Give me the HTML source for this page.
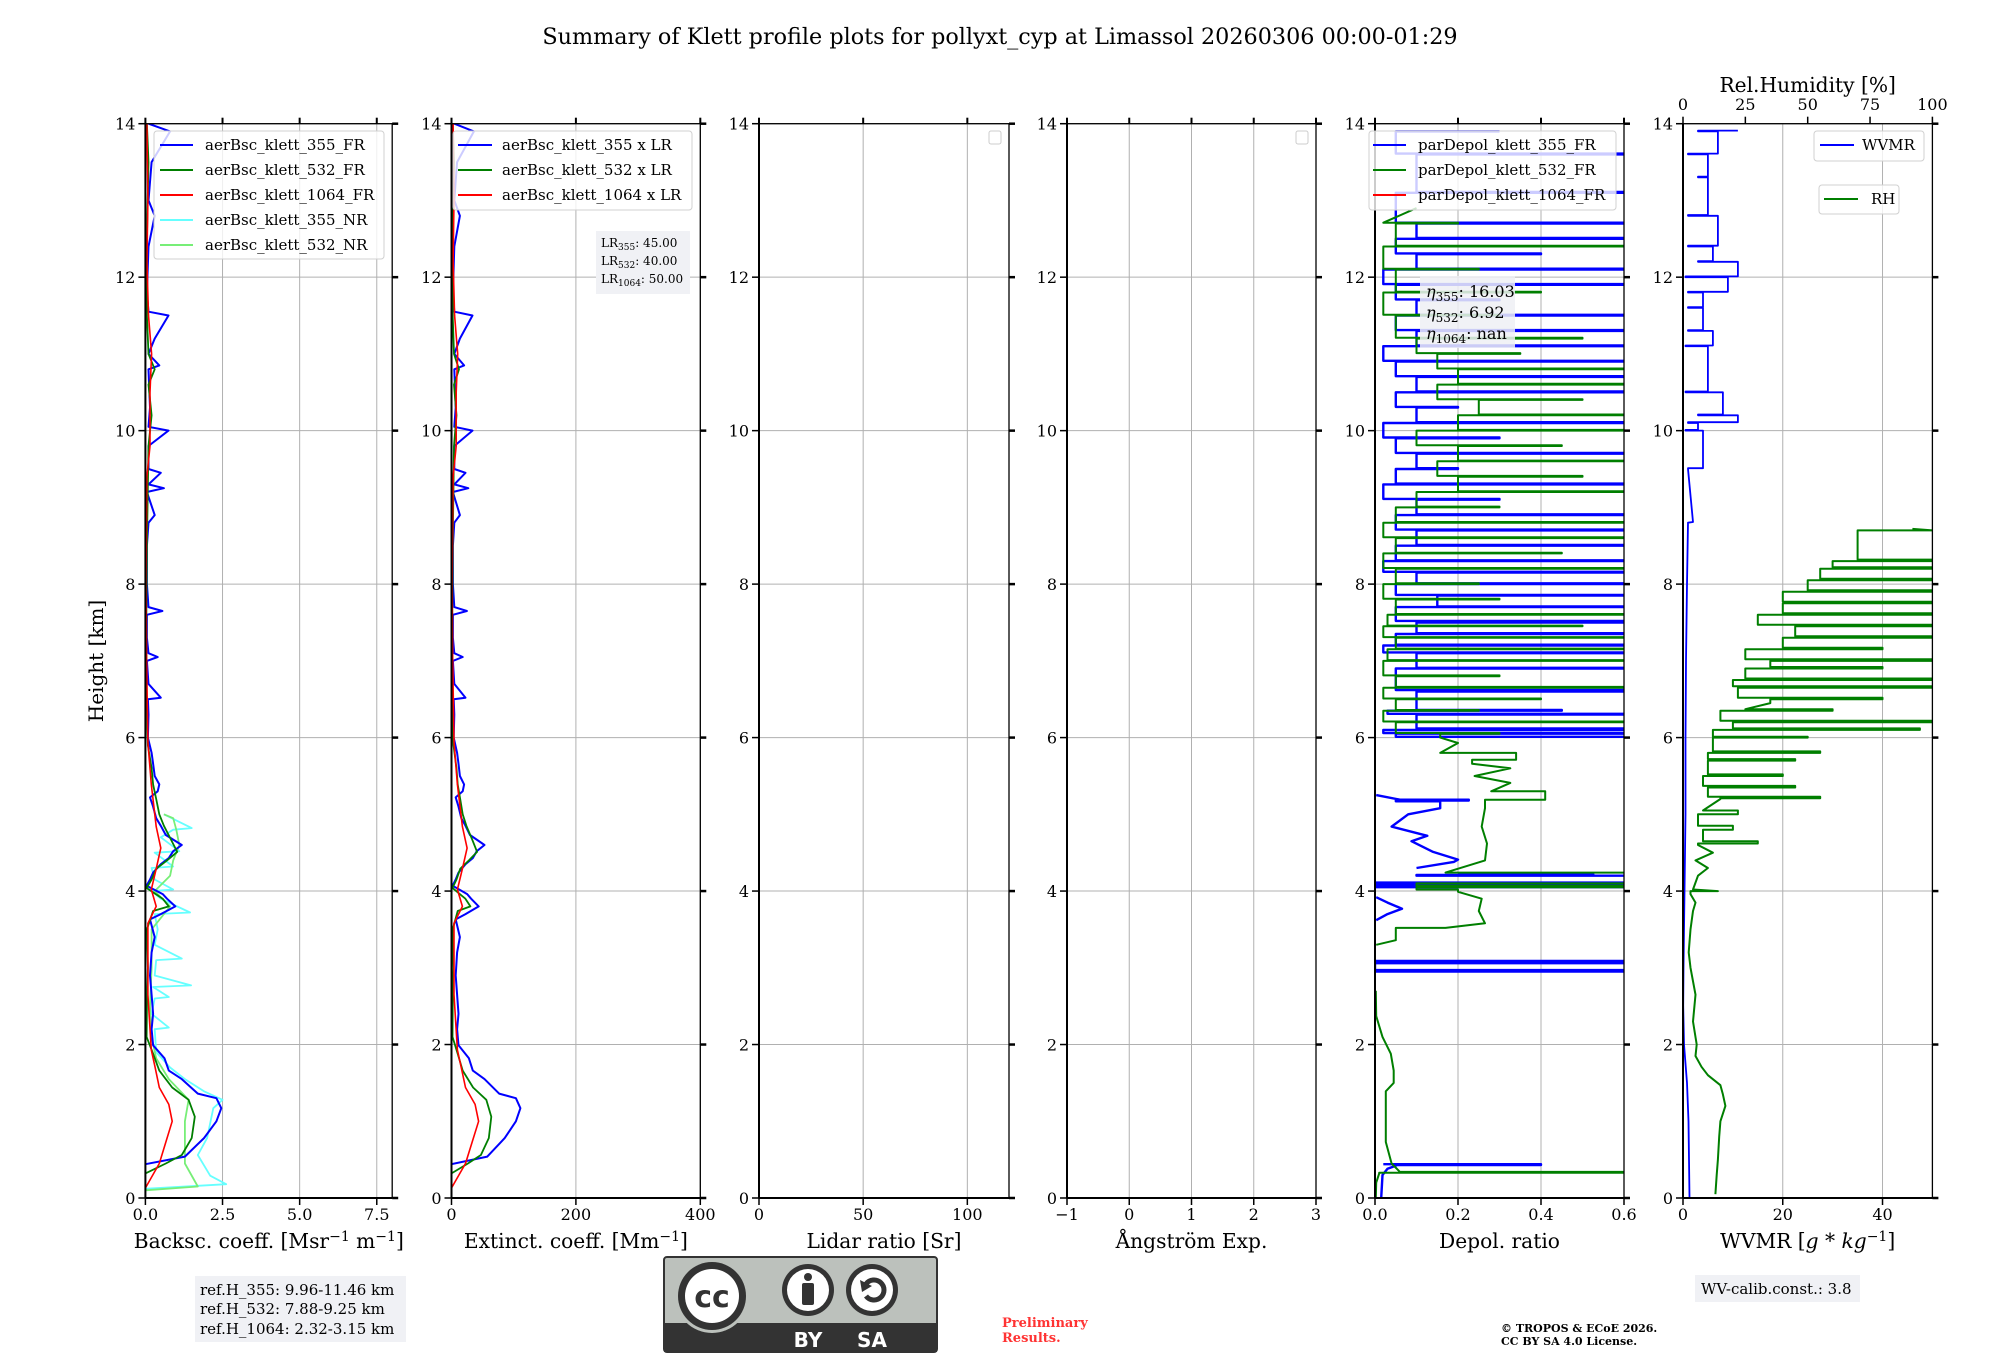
<!DOCTYPE html>
<html><head><meta charset="utf-8"><title>Klett profile summary</title>
<style>
html,body{margin:0;padding:0;background:#fff;}
svg{display:block;font-family:"DejaVu Serif","Liberation Serif",serif;}
</style></head>
<body>
<svg id="fig" width="2000" height="1360" viewBox="0 0 2000 1360" xmlns="http://www.w3.org/2000/svg">
<text x="1000" y="44" text-anchor="middle" font-size="22.3">Summary of Klett profile plots for pollyxt_cyp at Limassol 20260306 00:00-01:29</text>
<text transform="translate(103,661) rotate(-90)" text-anchor="middle" font-size="20">Height [km]</text>
<g id="panels"></g>

<g>
<rect x="195" y="1276" width="211" height="66" fill="#f0f1f5"/>
<text x="200" y="1295" font-size="15">ref.H_355: 9.96-11.46 km</text>
<text x="200" y="1314" font-size="15">ref.H_532: 7.88-9.25 km</text>
<text x="200" y="1334" font-size="15">ref.H_1064: 2.32-3.15 km</text>
</g>

<g>
<rect x="664" y="1257" width="273" height="95" rx="3" fill="#bcc1bc" stroke="#333" stroke-width="2"/>
<rect x="664" y="1323" width="273" height="29" fill="#333"/>
<circle cx="712" cy="1296" r="37" fill="#bcc1bc"/>
<circle cx="712" cy="1296" r="34" fill="#333"/>
<circle cx="712" cy="1296" r="27" fill="#fff"/>
<text x="712" y="1307" text-anchor="middle" font-family="'DejaVu Sans','Liberation Sans',sans-serif" font-weight="bold" font-size="30" fill="#333">cc</text>
<circle cx="808" cy="1290" r="26" fill="#333"/>
<circle cx="808" cy="1290" r="21" fill="#fff"/>
<circle cx="808" cy="1277" r="4" fill="#333"/>
<rect x="802" y="1283" width="12" height="22" rx="2" fill="#333"/>
<circle cx="872" cy="1290" r="26" fill="#333"/>
<circle cx="872" cy="1290" r="21" fill="#fff"/>
<path d="M866 1284 A10 10 0 1 1 866 1296" fill="none" stroke="#333" stroke-width="5"/>
<path d="M860 1280 L872 1286 L862 1292 Z" fill="#333"/>
<text x="808" y="1347" text-anchor="middle" font-family="'DejaVu Sans','Liberation Sans',sans-serif" font-weight="bold" font-size="20" fill="#fff">BY</text>
<text x="872" y="1347" text-anchor="middle" font-family="'DejaVu Sans','Liberation Sans',sans-serif" font-weight="bold" font-size="20" fill="#fff">SA</text>
</g>
<text x="1002" y="1327" font-size="13" font-weight="bold" fill="#ff3333">Preliminary</text>
<text x="1002" y="1342" font-size="13" font-weight="bold" fill="#ff3333">Results.</text>
<text x="1501" y="1332" font-size="11" font-weight="bold">© TROPOS &amp; ECoE 2026.</text>
<text x="1501" y="1345" font-size="11" font-weight="bold">CC BY SA 4.0 License.</text>
<g>
<rect x="1695" y="1275" width="165" height="27" fill="#f0f1f5"/>
<text x="1701" y="1294" font-size="15">WV-calib.const.: 3.8</text>
</g>
</svg>

<script>
// ---------- data ----------
const bsc355H = [0.44,0.54,0.78,1.0,1.17,1.3,1.36,1.55,1.66,1.82,1.99,2.2,2.4,2.65,2.9,3.2,3.4,3.63,3.7,3.8,3.9,3.96,4.07,4.15,4.24,4.35,4.43,4.52,4.6,4.73,4.85,4.95,5.1,5.22,5.3,5.39,5.5,5.66,5.8,6.0,6.3,6.5,6.52,6.7,7.0,7.05,7.1,7.3,7.6,7.65,7.7,8.0,8.5,8.8,8.9,9.2,9.25,9.3,9.45,9.5,9.8,10.0,10.05,10.3,10.8,10.85,11.0,11.2,11.5,11.55,11.8,12.4,12.8,13.0,13.5,13.9,14.0];
const bsc355V = [0,1.28,1.9,2.3,2.46,2.3,1.7,1.18,0.76,0.62,0.25,0.2,0.25,0.2,0.15,0.2,0.3,0.15,0.5,0.97,0.7,0.56,0.04,0.15,0.25,0.5,0.76,0.9,1.18,0.66,0.5,0.35,0.25,0.15,0.4,0.45,0.3,0.25,0.2,0.08,0.1,0.08,0.5,0.1,0.05,0.4,0.1,0.05,0.05,0.55,0.1,0.05,0.05,0.1,0.3,0.05,0.6,0.1,0.5,0.1,0.1,0.75,0.1,0.15,0.1,0.45,0.1,0.3,0.75,0.1,0.05,0.1,0.3,0.1,0.2,0.8,0.1];
const bsc532H = [0.32,0.45,0.56,0.78,1.06,1.28,1.44,1.66,1.88,2.1,2.5,3.0,3.5,3.74,3.8,3.9,4.04,4.15,4.29,4.4,4.51,4.67,4.85,5.0,5.2,5.39,5.6,5.9,6.5,7.5,8.5,9.8,10.2,10.6,10.8,11.0,11.5,12.5,13.5,14];
const bsc532V = [0,0.66,1.18,1.5,1.6,1.4,0.87,0.45,0.25,0.04,0.05,0.08,0.05,0.25,0.76,0.56,0.04,0.2,0.35,0.7,1.03,0.83,0.6,0.45,0.35,0.25,0.2,0.08,0.04,0.03,0.05,0.1,0.2,0.1,0.3,0.1,0.05,0.05,0.1,0.05];
const bsc1064H = [0.13,0.45,1.0,1.22,1.44,1.71,1.93,2.65,3.58,3.8,4.02,4.29,4.56,4.84,5.39,5.94,7,8,9.4,9.8,10.5,11,11.5,12.2,13,14];
const bsc1064V = [0,0.45,0.87,0.76,0.45,0.31,0.19,0.08,0.08,0.35,0.19,0.35,0.5,0.35,0.19,0.08,0.04,0.02,0.05,0.15,0.15,0.2,0.1,0.05,0.08,0.05];
const nr355H = [0.12,0.18,0.29,0.56,0.78,1.17,1.28,1.39,1.55,1.7,1.9,2.2,2.22,2.4,2.6,2.62,2.75,2.77,2.9,3.1,3.12,3.3,3.5,3.7,3.72,3.9,4.0,4.02,4.15,4.3,4.32,4.5,4.52,4.7,4.8,4.82,5.0];
const nr355V = [0,2.62,2.1,1.7,2.0,2.2,2.5,1.9,1.28,0.8,0.35,0.3,0.76,0.2,0.3,0.76,0.25,1.48,0.3,0.35,1.18,0.3,0.4,0.3,1.45,0.5,0.2,0.9,0.3,0.2,0.9,0.3,1.1,0.5,0.9,1.5,0.6];
const nr532H = [0.1,0.15,0.45,1.0,1.28,1.55,1.82,2.1,2.5,3.0,3.5,3.8,4.0,4.2,4.4,4.6,4.8,4.95,5.0];
const nr532V = [0,1.7,1.28,1.28,1.4,0.76,0.35,0.2,0.15,0.2,0.2,0.8,0.3,0.8,0.9,1.1,1.0,0.9,0.6];
const lidarRatios = [45.00, 40.00, 50.00];

const dep355H = [0.0,0.3,0.38,0.42,0.43,0.43,0.44,null,2.94,2.95,2.96,2.97,3.05,3.06,3.08,3.09,null,3.62,3.7,3.77,3.85,3.92,null,4.04,4.05,4.07,4.08,4.1,4.11,4.2,4.21,4.22,null,4.3,4.38,4.41,4.51,4.65,4.72,4.84,5.0,5.08,5.17,5.18,5.19,5.25,null,
 6.0,6.01,6.05,6.06,6.1,6.12,6.3,6.31,6.35,6.36,6.6,6.62,6.9,6.91,7.1,7.11,7.2,7.21,7.35,7.36,7.5,7.52,7.7,7.71,7.85,7.86,8.0,8.01,8.15,8.16,8.3,8.31,8.5,8.51,8.7,8.71,8.9,8.91,9.1,9.11,9.3,9.31,9.5,9.51,9.7,9.71,9.9,9.91,10.1,10.11,10.3,10.31,10.5,10.51,10.7,10.71,10.9,10.91,11.1,11.11,11.3,11.31,11.5,11.51,11.7,11.71,11.9,11.91,12.1,12.11,12.3,12.31,12.5,12.51,12.7,12.71,13.1,13.11,13.6,13.61,13.9];
const dep355V = [0.015,0.018,0.03,0.05,0.05,0.4,0.02,null,0.0,0.7,0.7,0.0,0.0,0.7,0.7,0.0,null,0.003,0.03,0.065,0.03,0.003,null,0.0,0.7,0.0,0.7,0.0,0.7,0.1,0.526,0.2,null,0.1,0.19,0.2,0.14,0.088,0.126,0.04,0.08,0.157,0.05,0.226,0.06,0.003,null,
 0.9,0.05,0.9,0.02,0.7,0.1,0.9,0.03,0.45,0.1,0.9,0.05,0.9,0.1,0.9,0.02,0.6,0.05,0.9,0.1,0.7,0.05,0.9,0.15,0.9,0.05,0.9,0.1,0.9,0.02,0.9,0.05,0.9,0.1,0.7,0.05,0.9,0.1,0.3,0.02,0.9,0.05,0.2,0.1,0.9,0.05,0.3,0.02,0.9,0.1,0.2,0.05,0.9,0.1,0.9,0.05,0.9,0.02,0.9,0.1,0.9,0.05,0.9,0.1,0.3,0.05,0.9,0.02,0.9,0.1,0.4,0.05,0.9,0.1,0.9,0.05,0.9,0.1,0.9,0.05,0.3];
const dep532H = [0.0,0.2,0.32,0.33,0.34,0.45,0.73,1.39,1.5,1.66,1.88,2.1,2.37,2.7,null,3.3,3.36,3.41,3.52,3.58,3.74,3.9,3.99,4.02,4.05,4.07,4.1,4.24,4.4,4.62,4.84,5.08,5.19,5.3,5.41,5.5,5.6,5.66,5.71,5.8,5.93,
 6.0,6.05,6.06,6.2,6.21,6.35,6.36,6.5,6.51,6.65,6.66,6.8,6.81,7.0,7.01,7.15,7.16,7.3,7.31,7.45,7.46,7.6,7.61,7.8,7.81,8.0,8.01,8.2,8.21,8.4,8.41,8.6,8.61,8.8,8.81,9.0,9.01,9.2,9.21,9.4,9.41,9.6,9.61,9.8,9.81,10.0,10.01,10.2,10.21,10.4,10.41,10.6,10.61,10.8,10.81,11.0,11.01,11.2,11.21,11.5,11.51,11.8,11.81,12.1,12.11,12.4,12.41,12.7,12.71,12.9];
const dep532V = [0.002,0.003,0.01,0.7,0.06,0.04,0.026,0.026,0.045,0.045,0.038,0.018,0.003,0.002,null,0.003,0.05,0.05,0.17,0.265,0.25,0.257,0.2,0.1,0.7,0.1,0.7,0.17,0.265,0.27,0.257,0.265,0.41,0.28,0.326,0.24,0.326,0.234,0.34,0.157,0.2,
 0.157,0.3,0.05,0.7,0.02,0.25,0.05,0.4,0.02,0.7,0.05,0.3,0.02,0.7,0.03,0.6,0.05,0.7,0.02,0.5,0.03,0.7,0.05,0.3,0.02,0.25,0.05,0.7,0.02,0.45,0.05,0.7,0.02,0.6,0.05,0.3,0.1,0.7,0.2,0.5,0.15,0.7,0.2,0.45,0.1,0.7,0.2,0.7,0.25,0.5,0.15,0.7,0.2,0.7,0.15,0.35,0.1,0.5,0.05,0.3,0.02,0.4,0.05,0.25,0.02,0.7,0.05,0.2,0.02,0.1];

const wvH = [0.0,0.5,1.0,1.5,2.0,2.5,3.0,4.0,5.0,6.0,7.0,8.0,8.8,8.81,9.5,9.51,10.0,10.01,10.1,10.11,10.2,10.21,10.5,10.51,11.1,11.11,11.3,11.31,11.6,11.61,11.8,11.81,12.0,12.01,12.2,12.21,12.4,12.41,12.8,12.81,13.3,13.31,13.6,13.61,13.9,13.91];
const wvV = [1.3,1.2,1.1,0.8,0.2,0.05,0.1,0.3,0.5,0.5,0.6,0.8,1,2,1,4,0.5,3,1,11,3,8,0.5,5,0.5,6,1,4,1,4,1,9,0.5,11,3,6,1,7,1,5,3,5,1,7,3,11];
const rhH = [0.05,0.3,0.5,0.8,1.0,1.2,1.35,1.47,1.6,1.71,1.85,2.0,2.3,2.65,3.0,3.2,3.5,3.74,3.85,3.96,4.0,4.02,4.2,4.3,4.4,4.5,4.6,4.62,4.65,4.8,4.85,5.0,5.05,5.2,5.21,5.23,5.35,5.37,5.5,5.52,5.7,5.72,5.8,5.82,6.0,6.01,6.1,6.12,6.2,6.22,6.35,6.37,6.45,6.5,6.52,6.65,6.67,6.75,6.77,6.9,6.92,7.0,7.02,7.15,7.17,7.3,7.32,7.45,7.47,7.6,7.62,7.75,7.77,7.9,7.92,8.05,8.07,8.2,8.22,8.3,8.32,8.7,8.72];
const rhV = [13,13.5,14,14.5,15,17,16,15,10,7.4,5,5.5,4,5,3,2.3,3,4,5,3,14,4,6,10,5,12,6,30,8,20,6,22,8,15,55,10,45,8,40,10,45,10,55,12,50,12,95,20,100,15,60,25,35,80,22,100,20,100,25,80,35,100,25,80,40,100,45,100,30,100,40,100,40,100,50,100,55,100,60,100,70,100,92];

const bscTicks = ["0.0","2.5","5.0","7.5"];
const extTicks = ["0","200","400"];
const lrTicks = ["0","50","100"];
const angTicks = ["\u22121","0","1","2","3"];
const depTicks = ["0.0","0.2","0.4","0.6"];
const wvTicks = ["0","20","40"];
const rhTicks = ["0","25","50","75","100"];
const hTicks = ["0","2","4","6","8","10","12","14"];

// ---------- helpers ----------
const NS = "http://www.w3.org/2000/svg";
const Y0 = 1198, Y14 = 123.7;
function yScale(h){ return Y0 - (Y0 - Y14) * h / 14; }
function xScaleFor(p){ return v => p.x0 + (p.x1 - p.x0) * (v - p.min) / (p.max - p.min); }
function mk(tag, attrs, parent){ const e = document.createElementNS(NS, tag); for (const k in attrs) e.setAttribute(k, attrs[k]); parent.appendChild(e); return e; }

const root = document.getElementById("panels");
const panels = [
 {key:"bsc", x0:145.4, x1:392.2, min:0, max:8, ticks:bscTicks, label:'Backsc. coeff. [Msr<tspan dy="-7" font-size="14">\u22121</tspan><tspan dy="7"> m</tspan><tspan dy="-7" font-size="14">\u22121</tspan><tspan dy="7">]</tspan>'},
 {key:"ext", x0:451.5, x1:700.3, min:0, max:400, ticks:extTicks, label:'Extinct. coeff. [Mm<tspan dy="-7" font-size="14">\u22121</tspan><tspan dy="7">]</tspan>'},
 {key:"lr", x0:759, x1:1009, min:0, max:120, ticks:lrTicks, label:'Lidar ratio [Sr]'},
 {key:"ang", x0:1067, x1:1316, min:-1, max:3, ticks:angTicks, label:'\u00c5ngstr\u00f6m Exp.'},
 {key:"dep", x0:1375, x1:1624, min:0, max:0.6, ticks:depTicks, label:'Depol. ratio'},
 {key:"wv", x0:1683, x1:1932.4, min:0, max:50, ticks:wvTicks, label:'WVMR [<tspan font-style="italic">g</tspan> * <tspan font-style="italic">kg</tspan><tspan dy="-7" font-size="14">\u22121</tspan><tspan dy="7">]</tspan>'}
];

// stepJump: pixel threshold above which a value jump is drawn as vertical-then-horizontal spike
function drawLine(g, xs, Hs, Vs, color, width, name, stepJump){
  let d = "", pen = false, lastX = 0;
  for (let i = 0; i < Hs.length; i++){
    if (Hs[i] === null || Vs[i] === null){ pen = false; continue; }
    const x = xs(Vs[i]), y = yScale(Hs[i]);
    if (pen && stepJump && Math.abs(x - lastX) > stepJump){
      d += "L" + lastX.toFixed(1) + " " + y.toFixed(1);
    }
    d += (pen ? "L" : "M") + x.toFixed(1) + " " + y.toFixed(1);
    lastX = x;
    pen = true;
  }
  const p = mk("path", {d:d, fill:"none", stroke:color, "stroke-width":width, "stroke-linejoin":"round"}, g);
  
  
  return p;
}

panels.forEach((p, idx) => {
  const g = mk("g", {}, root);
  
  
  const xs = xScaleFor(p);
  const clip = mk("clipPath", {id:"clip" + idx}, g);
  mk("rect", {x:p.x0, y:Y14, width:p.x1 - p.x0, height:Y0 - Y14}, clip);
  hTicks.forEach((t) => {
    const y = yScale(+t);
    const gl = mk("line", {x1:p.x0, x2:p.x1, y1:y, y2:y, stroke:"#b0b0b0", "stroke-width":1}, g);
    
    
  });
  p.ticks.forEach((t) => {
    const x = xs(+t.replace("\u2212","-"));
    const gl = mk("line", {x1:x, x2:x, y1:Y14, y2:Y0, stroke:"#b0b0b0", "stroke-width":1}, g);
    
    
  });
  const dg = mk("g", {"clip-path":"url(#clip" + idx + ")"}, g);
  if (p.key === "bsc"){
    drawLine(dg, xs, nr355H, nr355V, "#66ffff", 1.8, "bsc-355-nr-line", 0);
    drawLine(dg, xs, nr532H, nr532V, "#77ee77", 1.8, "bsc-532-nr-line", 0);
    drawLine(dg, xs, bsc355H, bsc355V, "#0000ff", 2, "bsc-355-fr-line", 0);
    drawLine(dg, xs, bsc532H, bsc532V, "#007f00", 1.8, "bsc-532-fr-line", 0);
    drawLine(dg, xs, bsc1064H, bsc1064V, "#ff0000", 1.6, "bsc-1064-fr-line", 0);
  } else if (p.key === "ext"){
    drawLine(dg, xs, bsc355H, bsc355V.map(v => v * lidarRatios[0]), "#0000ff", 2, "ext-355-line", 0);
    drawLine(dg, xs, bsc532H, bsc532V.map(v => v * lidarRatios[1]), "#007f00", 1.8, "ext-532-line", 0);
    drawLine(dg, xs, bsc1064H, bsc1064V.map(v => v * lidarRatios[2]), "#ff0000", 1.6, "ext-1064-line", 0);
  } else if (p.key === "dep"){
    drawLine(dg, xs, dep355H, dep355V, "#0000ff", 2.4, "depol-355-line", 40);
    drawLine(dg, xs, dep532H, dep532V, "#007f00", 2, "depol-532-line", 40);
  } else if (p.key === "wv"){
    const rx = v => p.x0 + (p.x1 - p.x0) * v / 100;
    drawLine(dg, xs, wvH, wvV, "#0000ff", 1.8, "wvmr-line", 8);
    drawLine(dg, rx, rhH, rhV, "#007f00", 2, "rh-line", 25);
  }
  const fr = mk("rect", {x:p.x0, y:Y14, width:p.x1 - p.x0, height:Y0 - Y14, fill:"none", stroke:"#000", "stroke-width":1.3}, g);
  
  
  mk("line", {x1:p.x0, x2:p.x1, y1:Y0, y2:Y0, stroke:"#000", "stroke-width":2}, g);
  mk("line", {x1:p.x0, x2:p.x0, y1:Y14, y2:Y0, stroke:"#000", "stroke-width":2}, g);
  hTicks.forEach((t) => {
    const y = yScale(+t);
    mk("line", {x1:p.x0 - 7, x2:p.x0, y1:y, y2:y, stroke:"#000", "stroke-width":1.5}, g);
    mk("line", {x1:p.x1, x2:p.x1 + 6, y1:y, y2:y, stroke:"#000", "stroke-width":2.5}, g);
    const tl = mk("text", {x:p.x0 - 10, y:y + 6, "text-anchor":"end", "font-size":16}, g);
    tl.textContent = t;
    
    
  });
  p.ticks.forEach((t) => {
    const x = xs(+t.replace("\u2212","-"));
    mk("line", {x1:x, x2:x, y1:Y0, y2:Y0 + 7, stroke:"#000", "stroke-width":1.5}, g);
    if (p.key !== "wv") mk("line", {x1:x, x2:x, y1:Y14 - 6, y2:Y14, stroke:"#000", "stroke-width":2}, g);
    const tl = mk("text", {x:x, y:Y0 + 22, "text-anchor":"middle", "font-size":16}, g);
    tl.textContent = t;
    
    
  });
  const xl = mk("text", {x:(p.x0 + p.x1) / 2, y:1248, "text-anchor":"middle", "font-size":20.2}, g);
  xl.innerHTML = p.label;
  
  

  if (p.key === "wv"){
    rhTicks.forEach((t) => {
      const x = p.x0 + (p.x1 - p.x0) * (+t) / 100;
      mk("line", {x1:x, x2:x, y1:Y14 - 7, y2:Y14, stroke:"#000", "stroke-width":1.5}, g);
      const tl = mk("text", {x:x, y:110, "text-anchor":"middle", "font-size":16}, g);
      tl.textContent = t;
      
      
    });
    const tt = mk("text", {x:(p.x0 + p.x1) / 2, y:92, "text-anchor":"middle", "font-size":20.2}, g);
    tt.textContent = "Rel.Humidity [%]";
    
    
  }
});

function legend(x, y, w, h, entries, lineX0, lineX1, textX, step, name){
  const g = mk("g", {}, root);
  
  
  mk("rect", {x:x, y:y, width:w, height:h, rx:3, fill:"#fff", "fill-opacity":0.8, stroke:"#d0d0d0", "stroke-width":1}, g);
  entries.forEach((e, i) => {
    const yy = y + 14 + i * step;
    mk("line", {x1:lineX0, x2:lineX1, y1:yy, y2:yy, stroke:e[1], "stroke-width":2}, g);
    const t = mk("text", {x:textX, y:yy + 5, "font-size":15}, g);
    t.textContent = e[0];
    
    
  });
}
legend(154, 131, 230, 128, [["aerBsc_klett_355_FR","#0000ff"],["aerBsc_klett_532_FR","#007f00"],["aerBsc_klett_1064_FR","#ff0000"],["aerBsc_klett_355_NR","#66ffff"],["aerBsc_klett_532_NR","#77ee77"]], 160, 193, 205, 25, "bsc-legend");
legend(453, 131, 239, 79, [["aerBsc_klett_355 x LR","#0000ff"],["aerBsc_klett_532 x LR","#007f00"],["aerBsc_klett_1064 x LR","#ff0000"]], 458, 492, 502, 25, "ext-legend");
legend(1369, 131, 247, 79, [["parDepol_klett_355_FR","#0000ff"],["parDepol_klett_532_FR","#007f00"],["parDepol_klett_1064_FR","#ff0000"]], 1373, 1406, 1418, 25, "depol-legend");
legend(1814, 131, 110, 30, [["WVMR","#0000ff"]], 1820, 1854, 1862, 25, "wvmr-legend");
legend(1819, 185, 80, 29, [["RH","#007f00"]], 1824, 1858, 1871, 25, "rh-legend");

[[989,131,"lr-empty-legend"],[1296,131,"angstrom-empty-legend"]].forEach(a => {
  const r = mk("rect", {x:a[0], y:a[1], width:12, height:13, rx:2, fill:"#fff", stroke:"#ccc"}, root);
  
  
});

(function(){
  const g = mk("g", {}, root);
  
  
  mk("rect", {x:596, y:231, width:94, height:63, fill:"#f0f1f5"}, g);
  const lbl = ["355","532","1064"];
  lbl.forEach((s, i) => {
    const t = mk("text", {x:601, y:247 + i * 18, "font-size":12}, g);
    t.innerHTML = 'LR<tspan font-size="9" dy="3">' + s + '</tspan><tspan dy="-3">: ' + lidarRatios[i].toFixed(2) + '</tspan>';
  });
})();
(function(){
  const g = mk("g", {}, root);
  
  
  mk("rect", {x:1420, y:276, width:95, height:72, fill:"#eef0f5", "fill-opacity":0.85}, g);
  const lbl = [["355","16.03"],["532","6.92"],["1064","nan"]];
  lbl.forEach((s, i) => {
    const t = mk("text", {x:1426, y:297 + i * 21, "font-size":16}, g);
    t.innerHTML = '<tspan font-style="italic">\u03b7</tspan><tspan font-size="12" dy="4">' + s[0] + '</tspan><tspan dy="-4">: ' + s[1] + '</tspan>';
  });
})();
</script>
</body></html>
